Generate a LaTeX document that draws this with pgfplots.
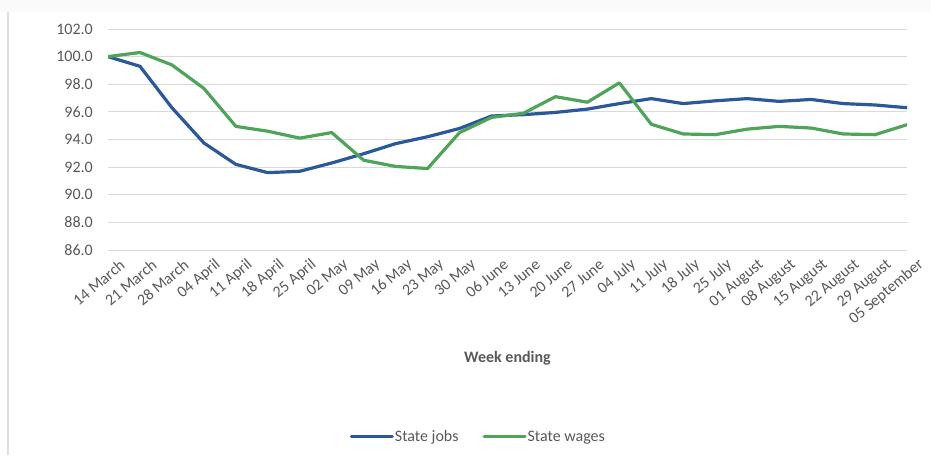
\documentclass[border=0pt]{standalone}
\usepackage{pgfplots}
\pgfplotsset{compat=1.18}
\usepackage{pgfplotstable}
\usepackage{fontspec}
\setmainfont{Carlito}
\definecolor{jobsblue}{RGB}{43,88,152}
\definecolor{wagegreen}{RGB}{80,164,90}
\definecolor{txtgray}{RGB}{89,89,89}
\definecolor{gridgray}{RGB}{217,217,217}
\pgfplotstableread{
i blue green
0 100.0 100.0
1 99.3 100.3
2 96.3 99.4
3 93.75 97.7
4 92.2 94.95
5 91.6 94.6
6 91.7 94.1
7 92.3 94.5
8 92.97 92.5
9 93.7 92.05
10 94.2 91.9
11 94.8 94.5
12 95.7 95.6
13 95.8 95.9
14 95.96 97.1
15 96.2 96.7
16 96.6 98.1
17 96.96 95.1
18 96.6 94.4
19 96.8 94.35
20 96.96 94.75
21 96.76 94.95
22 96.9 94.83
23 96.6 94.4
24 96.5 94.35
25 96.3 95.07
}\datatable
\begin{document}
\begin{tikzpicture}
\fill[gray!4] (0pt,443pt) rectangle (931pt,455pt);
\draw[gray!25, line width=1.2pt] (8pt,0pt) -- (8pt,443pt);
\path[use as bounding box] (0pt,0pt) rectangle (931pt,455pt);
\begin{axis}[
  at={(108pt,205pt)}, anchor=south west,
  width=799pt, height=221pt, scale only axis,
  xmin=0, xmax=25, ymin=86, ymax=102,
  axis line style={draw=none},
  major tick length=0pt,
  ymajorgrids, grid style={gridgray, line width=1pt},
  ytick={86,88,...,102},
  /pgf/number format/fixed, /pgf/number format/fixed zerofill,
  /pgf/number format/precision=1, /pgf/number format/assume math mode=true,
  yticklabel style={anchor=east, inner sep=0pt, xshift=-15pt, text=txtgray, font=\fontsize{16}{19}\selectfont},
  xtick={0,...,25},
  xticklabels={14 March,21 March,28 March,04 April,11 April,18 April,25 April,02 May,09 May,16 May,23 May,30 May,06 June,13 June,20 June,27 June,04 July,11 July,18 July,25 July,01 August,08 August,15 August,22 August,29 August,05 September},
  xticklabel style={rotate=40, anchor=east, inner sep=0pt, yshift=-19pt, xshift=3pt, text=txtgray, font=\fontsize{16}{19}\selectfont},
  xlabel={Week ending},
  xlabel style={at={(axis description cs:0.5,-0.489)}, anchor=center, font=\bfseries\fontsize{16}{19}\selectfont, text=txtgray},
  legend columns=2,
  legend style={at={(axis description cs:0.463,-0.846)}, anchor=center, draw=none, fill=none,
    font=\fontsize{16}{19}\selectfont, text=txtgray,
    /tikz/every even column/.append style={column sep=23pt},
    nodes={inner xsep=1pt}},
  legend image code/.code={\draw[#1, line width=3pt] (0pt,0pt) -- (41pt,0pt);},
]
\addplot[jobsblue, line width=3.2pt, line join=round, line cap=round] table[x=i, y=blue] {\datatable};
\addlegendentry{State jobs}
\addplot[wagegreen, line width=3.2pt, line join=round, line cap=round] table[x=i, y=green] {\datatable};
\addlegendentry{State wages}
\end{axis}
\end{tikzpicture}
\end{document}
